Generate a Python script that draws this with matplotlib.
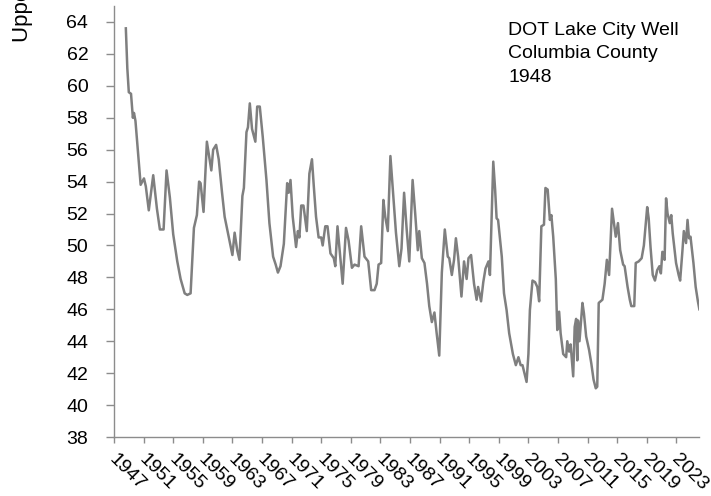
import matplotlib
matplotlib.use("Agg")
import matplotlib.pyplot as plt
import matplotlib.transforms as mtransforms
import numpy as np

plt.rcParams['font.family'] = ['Liberation Sans', 'DejaVu Sans']

# --- data (decimal year, water level) ---
years = [
    1948.6, 1948.8, 1949.0, 1949.3, 1949.55, 1949.7, 1949.9, 1950.6, 1951.05, 1951.3,
    1951.7, 1952.3, 1952.8, 1953.2, 1953.7, 1954.1, 1954.55, 1955.0, 1955.55, 1956.0,
    1956.55, 1956.9, 1957.35, 1957.8, 1958.2, 1958.5, 1958.7, 1959.1, 1959.55, 1960.15,
    1960.4, 1960.8, 1961.15, 1961.6, 1961.95, 1962.3, 1962.75, 1963.0, 1963.3, 1963.65,
    1963.95, 1964.35, 1964.55, 1964.9, 1965.1, 1965.35, 1965.65, 1966.1, 1966.35, 1966.7,
    1967.1, 1967.6, 1968.0, 1968.5, 1968.85, 1969.15, 1969.5, 1969.95, 1970.4, 1970.6,
    1970.85, 1971.15, 1971.6, 1971.85, 1972.05, 1972.3, 1972.6, 1973.05, 1973.4, 1973.75,
    1974.0, 1974.3, 1974.65, 1975.0, 1975.2, 1975.55, 1975.85, 1976.25, 1976.7, 1976.9,
    1977.2, 1977.6, 1977.9, 1978.35, 1978.7, 1979.15, 1979.5, 1980.05, 1980.4, 1980.85,
    1981.35, 1981.75, 1982.2, 1982.5, 1982.75, 1983.1, 1983.4, 1983.65, 1984.0, 1984.35,
    1984.65, 1985.1, 1985.55, 1985.85, 1986.2, 1986.55, 1986.9, 1987.35, 1987.7, 1988.05,
    1988.25, 1988.6, 1988.95, 1989.3, 1989.6, 1989.95, 1990.3, 1990.6, 1990.95, 1991.3,
    1991.7, 1992.1, 1992.3, 1992.65, 1992.95, 1993.2, 1993.5, 1993.95, 1994.3, 1994.65,
    1994.9, 1995.25, 1995.65, 1996.0, 1996.2, 1996.6, 1996.9, 1997.2, 1997.6, 1997.8,
    1998.0, 1998.25, 1998.5, 1998.7, 1998.9, 1999.4, 1999.7, 2000.05, 2000.4, 2000.9,
    2001.3, 2001.65, 2001.95, 2002.2, 2002.75, 2003.0, 2003.2, 2003.55, 2003.9, 2004.2,
    2004.45, 2004.75, 2005.1, 2005.3, 2005.6, 2005.9, 2006.1, 2006.35, 2006.7, 2006.9,
    2007.15, 2007.35, 2007.7, 2008.1, 2008.25, 2008.5, 2008.7, 2009.05, 2009.25, 2009.45,
    2009.6, 2009.7, 2009.9, 2010.3, 2010.5, 2010.8, 2011.2, 2011.5, 2011.8, 2012.1,
    2012.3, 2012.5, 2013.0, 2013.3, 2013.6, 2013.9, 2014.3, 2014.8, 2015.1, 2015.4,
    2015.8, 2016.0, 2016.4, 2016.7, 2016.9, 2017.3, 2017.5, 2017.9, 2018.3, 2018.6,
    2019.05, 2019.25, 2019.5, 2019.8, 2020.1, 2020.4, 2020.7, 2020.9, 2021.1, 2021.4,
    2021.6, 2021.8, 2022.1, 2022.3, 2022.5, 2022.95, 2023.3, 2023.5, 2023.8, 2024.0,
    2024.3, 2024.5, 2024.7, 2024.9, 2025.3, 2025.6, 2025.9, 2026.1,
]
levels = [
    63.6, 61.1, 59.6, 59.5, 58.0, 58.3, 57.8, 53.8, 54.2, 53.7,
    52.2, 54.4, 52.3, 51.0, 51.0, 54.7, 53.0, 50.7, 49.0, 47.9,
    47.0, 46.9, 47.0, 51.1, 51.9, 54.0, 53.9, 52.1, 56.5, 54.7,
    56.0, 56.3, 55.4, 53.3, 51.8, 51.0, 50.0, 49.4, 50.8, 49.7,
    49.1, 53.1, 53.6, 57.1, 57.4, 58.9, 57.3, 56.5, 58.7, 58.7,
    56.8, 54.1, 51.4, 49.3, 48.8, 48.3, 48.7, 50.1, 53.9, 53.3,
    54.1, 51.8, 49.9, 50.9, 50.5, 52.5, 52.5, 50.9, 54.5, 55.4,
    53.7, 51.8, 50.5, 50.5, 50.0, 51.2, 51.2, 49.5, 49.2, 48.7,
    51.2, 49.1, 47.6, 51.1, 50.3, 48.6, 48.8, 48.7, 51.2, 49.3,
    49.0, 47.2, 47.2, 47.6, 48.8, 48.9, 52.85, 51.8, 50.9, 55.6,
    53.7, 50.8, 48.7, 49.8, 53.3, 51.0, 49.0, 54.1, 52.0, 49.7,
    50.9, 49.2, 48.9, 47.6, 46.2, 45.2, 45.8, 44.5, 43.1, 48.3,
    51.0, 49.3, 49.2, 48.15, 49.1, 50.45, 49.3, 46.8, 49.0, 47.9,
    49.2, 49.4, 47.6, 46.6, 47.4, 46.5, 47.7, 48.55, 49.0, 48.15,
    51.4, 55.25, 53.5, 51.7, 51.6, 49.3, 47.0, 45.95, 44.5, 43.2,
    42.5, 43.0, 42.5, 42.5, 41.45, 43.2, 45.95, 47.8, 47.7, 47.4,
    46.5, 51.2, 51.3, 53.6, 53.5, 51.6, 51.9, 50.55, 47.9, 44.7,
    45.85, 44.5, 43.2, 43.0, 44.0, 43.35, 43.8, 41.8, 44.9, 45.4,
    42.8, 45.3, 44.0, 46.4, 45.75, 44.3, 43.45, 42.6, 41.6, 41.05,
    41.15, 46.4, 46.6, 47.6, 49.1, 48.15, 52.3, 50.55, 51.4, 49.7,
    48.8, 48.7, 47.4, 46.6, 46.2, 46.2, 48.9, 49.0, 49.2, 50.0,
    52.4, 51.7, 49.9, 48.15, 47.8, 48.45, 48.7, 48.25, 49.6, 49.1,
    52.95, 52.0, 51.4, 51.9, 50.75, 48.9, 48.15, 47.8, 49.6, 50.9,
    50.15, 51.6, 50.45, 50.55, 48.9, 47.4, 46.5, 46.0,
]
tick_years = list(range(1947, 2024, 4))
y_ticks = list(range(38, 65, 2))
label_text = "DOT Lake City Well\nColumbia County\n1948"
y_title = "Upper Floridan Aquifer Level (ft)"

fig = plt.figure(figsize=(7.11, 4.96), dpi=100)
ax = fig.add_axes([114 / 711, 1 - 437 / 496, 585 / 711, 431 / 496])

ax.plot(years, levels, color="#7f7f7f", linewidth=1.8, solid_joinstyle="round")

ax.set_xlim(1947, 2026.05)
ax.set_ylim(38, 65)
ax.set_yticks(y_ticks)
ax.set_xticks(tick_years)
ax.set_xticklabels([str(y) for y in tick_years], rotation=-45,
                   ha="left", va="top", rotation_mode="anchor")

for s in ["top", "right"]:
    ax.spines[s].set_visible(False)
for s in ["left", "bottom"]:
    ax.spines[s].set_color("#8c8c8c")
    ax.spines[s].set_linewidth(1.0)

ax.tick_params(axis="y", length=5.5, width=1.0, color="#8c8c8c", pad=13,
               labelsize=14, labelcolor="black")
ax.tick_params(axis="x", length=4, width=1.0, color="#8c8c8c", pad=6,
               labelsize=14, labelcolor="black")

# nudge the slanted year labels a little to the right
shift = mtransforms.ScaledTranslation(4 / 100, 0, fig.dpi_scale_trans)
for lbl in ax.get_xticklabels():
    lbl.set_transform(lbl.get_transform() + shift)

fig.text(508 / 711, 1 - 22 / 496, label_text,
         fontsize=14, ha="left", va="top", linespacing=1.5)

fig.text(23 / 711, 1 - 42 / 496, y_title, rotation=90, fontsize=16,
         ha="center", va="bottom")

fig.savefig("out.png", dpi=100)
